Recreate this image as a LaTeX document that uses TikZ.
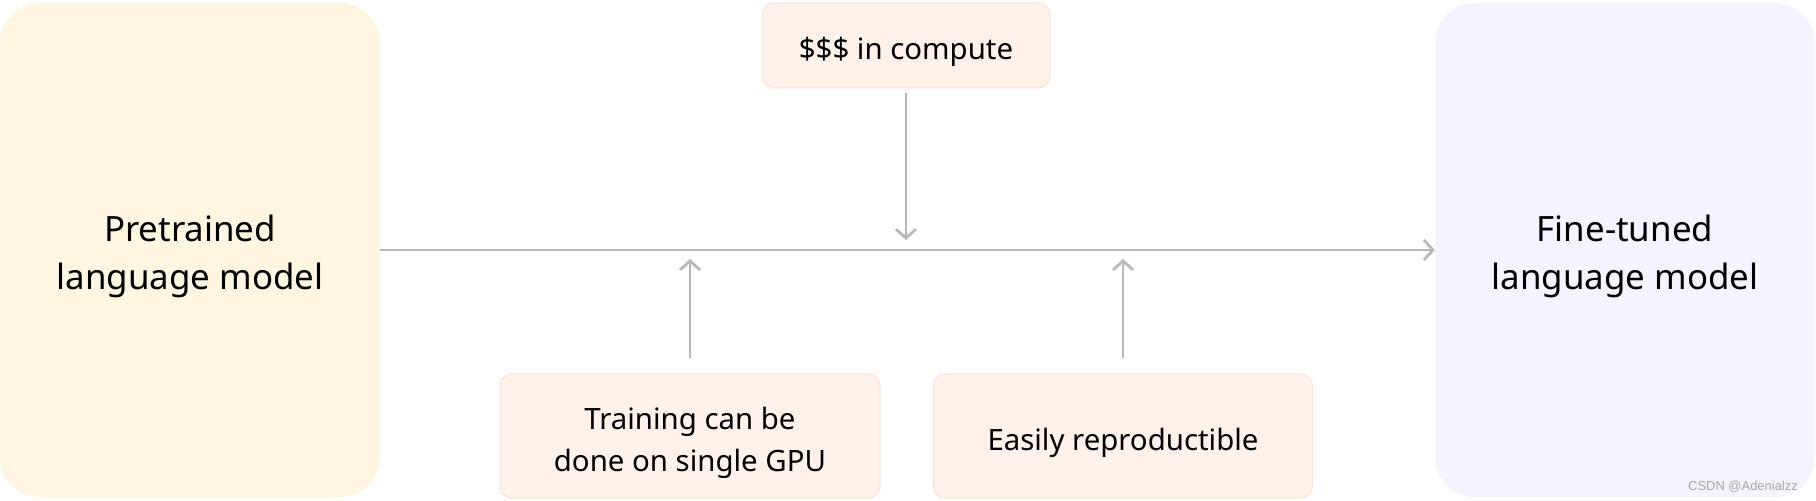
\documentclass[tikz,border=0pt]{standalone}
\usepackage{fontspec}
\setmainfont{Noto Sans}
\newfontfamily\markfont{Liberation Sans}
\usetikzlibrary{arrows.meta}
\definecolor{preFill}{HTML}{FEF6E0}
\definecolor{fineFill}{HTML}{F5F3FE}
\definecolor{noteFill}{HTML}{FEF1EA}
\definecolor{noteLine}{HTML}{FCE3D6}
\definecolor{flowGray}{HTML}{B8B8B8}
% text sits a little below the middle of its box
\newcommand{\boxtext}[1]{\raisebox{-6bp}[\height][\depth]{\begin{tabular}{@{}c@{}}#1\end{tabular}}}
\tikzset{
  model/.style={rectangle, rounded corners=40bp, minimum width=380bp, minimum height=494bp,
    inner sep=0pt, font=\fontsize{35}{48}\selectfont},
  note/.style={rectangle, rounded corners=12bp, fill=noteFill, draw=noteLine, line width=1bp,
    inner sep=0pt, font=\fontsize{29.5}{42}\selectfont},
  flow/.style={draw=flowGray, line width=2.8bp, -{Straight Barb[length=9bp,width=20bp]}}
}
\begin{document}
\begin{tikzpicture}[x=1bp,y=-1bp]
  \useasboundingbox (0,0) rectangle (1816,501);
  \node[model, fill=preFill] (Pre) at (190,250) {\boxtext{Pretrained\\language model}};
  \node[model, fill=fineFill] (Fine) at (1625,250) {\boxtext{Fine-tuned\\language model}};

  \node[note, minimum width=288bp, minimum height=85bp] (Compute) at (906,45.5) {\boxtext{\$\$\$ in compute}};
  \node[note, minimum width=380bp, minimum height=124bp] (GPU) at (690,436) {\boxtext{Training can be\\done on single GPU}};
  \node[note, minimum width=379bp, minimum height=124bp] (Repro) at (1123,436) {\boxtext{Easily reproductible}};

  \coordinate (Down) at (906,240);
  \coordinate (UpGPU) at (690,259);
  \coordinate (UpRepro) at (1123,259);

  \path[flow] (Pre.east) -- (Fine.west);
  \path[flow, shorten <=5bp] (Compute.south) -- (Down);
  \path[flow, shorten <=15bp] (GPU.north) -- (UpGPU);
  \path[flow, shorten <=15bp] (Repro.north) -- (UpRepro);

  \node[font=\markfont\fontsize{13}{13}\selectfont, text=black!35] (Mark) at (1743,487) {CSDN @Adenialzz};
\end{tikzpicture}
\end{document}
